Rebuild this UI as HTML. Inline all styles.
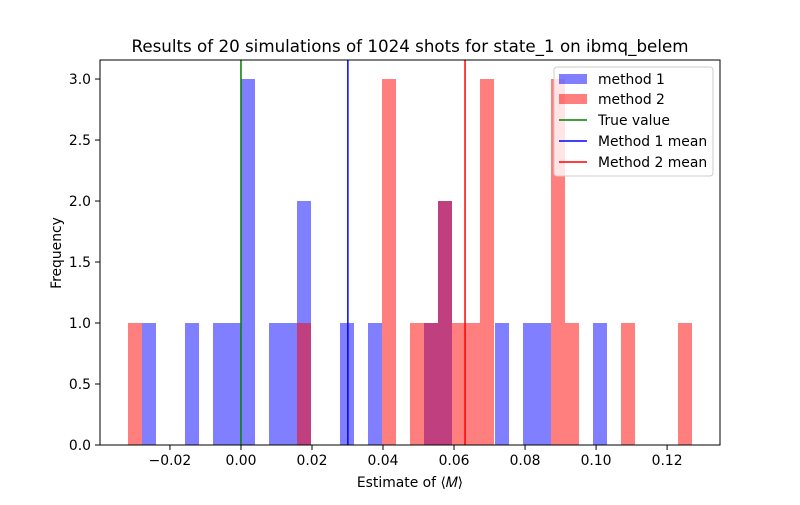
<!DOCTYPE html>
<html><head><meta charset="utf-8"><style>
body{margin:0;background:#fff;}
text{font-family:"DejaVu Sans","Liberation Sans",sans-serif;fill:#000;}
</style></head><body>
<svg id="chart" width="800" height="500" xmlns="http://www.w3.org/2000/svg">
<rect width="800" height="500" fill="#fff"/>
<text x="410" y="52" font-size="16.7" text-anchor="middle">Results of 20 simulations of 1024 shots for state_1 on ibmq_belem</text>
<g id="bars" shape-rendering="crispEdges"></g><g id="lines"></g><g id="axes"></g>
<text x="410" y="487" font-size="13.9" text-anchor="middle">Estimate of ⟨𝑀⟩</text>
<text transform="translate(61,253) rotate(-90)" font-size="13.9" text-anchor="middle">Frequency</text>
<g>
<rect x="554" y="67" width="159" height="109" rx="3" fill="#fff" fill-opacity="0.8" stroke="#ccc"/>
<rect x="559" y="74" width="28" height="10" fill="#0000ff" fill-opacity="0.5"/>
<text x="598" y="84" font-size="13.9">method 1</text>
<rect x="559" y="94" width="28" height="10" fill="#ff0000" fill-opacity="0.5"/>
<text x="598" y="104" font-size="13.9">method 2</text>
<line x1="559" x2="587" y1="120" y2="120" stroke="green" stroke-width="1.5"/>
<text x="598" y="125" font-size="13.9">True value</text>
<line x1="559" x2="587" y1="141" y2="141" stroke="blue" stroke-width="1.5"/>
<text x="598" y="146" font-size="13.9">Method 1 mean</text>
<line x1="559" x2="587" y1="162" y2="162" stroke="red" stroke-width="1.5"/>
<text x="598" y="167" font-size="13.9">Method 2 mean</text>
</g>
</svg>
<script>
const binWidth = 0.00394;
const m1Edges = [-0.0280,-0.0158,-0.0079,-0.0039,0,0.0079,0.0118,0.0158,0.0279,0.0358,0.0515,0.0555,0.0715,0.0794,0.0834,0.0992];
const m1Counts = [1,1,1,1,3,1,1,2,1,1,1,2,1,1,1,1];
const m2Edges = [-0.0319,0.0158,0.0397,0.0476,0.0515,0.0555,0.0594,0.0634,0.0673,0.0873,0.0913,0.1070,0.1231];
const m2Counts = [1,1,3,1,1,2,1,1,3,3,1,1,1];
const trueValue = 0;
const m1Mean = 0.0301;
const m2Mean = 0.0631;
const xTicks = [-0.02,0,0.02,0.04,0.06,0.08,0.10,0.12];
const xTickLabels = ["−0.02","0.00","0.02","0.04","0.06","0.08","0.10","0.12"];
const yTicks = [0,0.5,1,1.5,2,2.5,3];
const yTickLabels = ["0.0","0.5","1.0","1.5","2.0","2.5","3.0"];

const L=100,R=720,T=60,B=445;
const xmin=-0.0397,xmax=0.1349,ymax=3.156;
const sx=v=>L+(v-xmin)/(xmax-xmin)*(R-L);
const sy=v=>B-v/ymax*(B-T);
const NS="http://www.w3.org/2000/svg";
function mk(tag,attrs,parent){const e=document.createElementNS(NS,tag);for(const k in attrs)e.setAttribute(k,attrs[k]);parent.appendChild(e);return e;}
const bars=document.getElementById('bars'),lines=document.getElementById('lines'),axes=document.getElementById('axes');
function drawSeries(edges,counts,color,name){
  const g=mk('g',{fill:color,'fill-opacity':0.5},bars);
  edges.forEach((x0,i)=>{
    const xa=Math.round(sx(x0)), xb=Math.round(sx(x0+binWidth));
    const r=mk('rect',{x:xa,y:sy(counts[i]),width:xb-xa,height:sy(0)-sy(counts[i])},g);
    
    
  });
}
drawSeries(m1Edges,m1Counts,'#0000ff','method-1');
drawSeries(m2Edges,m2Counts,'#ff0000','method-2');
[[trueValue,'green','true-value-line'],[m1Mean,'blue','method-1-mean-line'],[m2Mean,'red','method-2-mean-line']].forEach(([v,c,n])=>{
  const l=mk('line',{x1:sx(v),x2:sx(v),y1:T,y2:B,stroke:c,'stroke-width':1.5},lines);
  
  
});
const frame=mk('rect',{x:L,y:T,width:R-L,height:B-T,fill:'none',stroke:'#000','stroke-width':1},axes);


xTicks.forEach((v,i)=>{
  const x=sx(v);
  mk('line',{x1:x,x2:x,y1:B,y2:B+5,stroke:'#000'},axes);
  const t=mk('text',{x:x,y:B+20,'font-size':13.9,'text-anchor':'middle'},axes);
  t.textContent=xTickLabels[i];
  
  
});
yTicks.forEach((v,i)=>{
  const y=sy(v);
  mk('line',{x1:L-5,x2:L,y1:y,y2:y,stroke:'#000'},axes);
  const t=mk('text',{x:L-9,y:y+5,'font-size':13.9,'text-anchor':'end'},axes);
  t.textContent=yTickLabels[i];
  
  
});
</script>
</body></html>
